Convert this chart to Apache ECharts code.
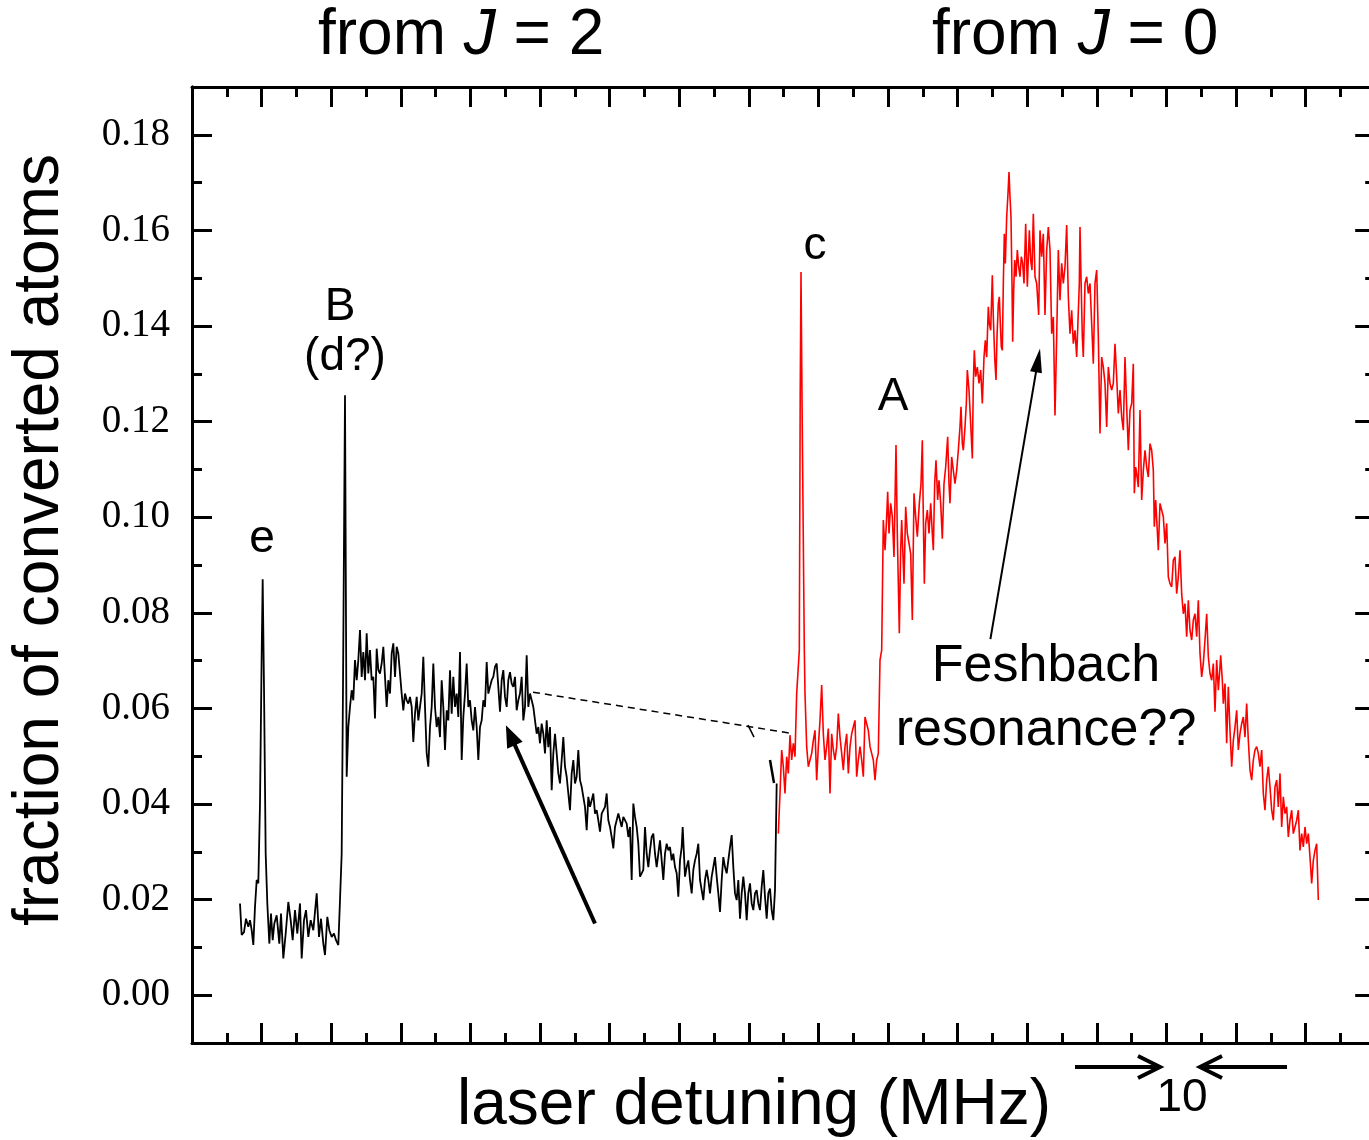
<!DOCTYPE html>
<html><head><meta charset="utf-8">
<script src="https://cdn.jsdelivr.net/npm/echarts@6/dist/echarts.min.js"></script>
<style>html,body{margin:0;padding:0;background:#fff}#c{width:1369px;height:1140px}</style>
</head><body><div id="c"></div>
<script>
// ---------- data (x: laser detuning in MHz, arbitrary origin; y: fraction of converted atoms) ----------
const yTickLabels = ['0.00','0.02','0.04','0.06','0.08','0.10','0.12','0.14','0.16','0.18'];
const yMinorTicks = [0.01, 0.03, 0.05, 0.07, 0.09, 0.11, 0.13, 0.15, 0.17];
const xRange = [0, 295.8];
const xMajorStep = 17.4;
const yRange = [-0.01, 0.19];
const scaleBarMHz = [242, 252];
const scaleBarLabel = '10';

// from J = 2 (black)
const blackData = [
[12,.0192],[12.42,.0126],[13,.0132],[13.5,.016],[14.08,.0143],[14.5,.0157],[14.92,.0136],[15.33,.0105],[15.75,.0185],[16.17,.0241],[16.58,.0234],[17,.0401],[17.42,.0715],[17.67,.087],[18,.0645],[18.42,.0296],[18.83,.0192],[19.33,.0108],[19.75,.0171],[20.17,.0115],[20.58,.015],[21.17,.0167],[21.83,.0108],[22.25,.0171],[22.83,.0077],[23.42,.0129],[24.08,.0195],[24.67,.0157],[25.17,.0115],[25.75,.0178],[26.33,.0129],[27,.0192],[27.42,.0077],[28,.0157],[28.5,.0178],[29.08,.0122],[29.67,.0157],[30.33,.0136],[31.17,.0213],[31.75,.0122],[32.25,.016],[32.83,.0108],[33.25,.0084],[33.83,.0164],[34.33,.0136],[34.92,.0122],[35.5,.0129],[36,.0115],[36.58,.0105],[37,.0199],[37.42,.0296],[37.75,.0645],[38.25,.1255],[38.5,.0785],[38.67,.0457],[39.08,.0561],[39.5,.0603],[39.92,.0638],[40.33,.0617],[40.75,.0701],[41.17,.0659],[41.58,.0701],[42,.0764],[42.42,.0666],[42.83,.0718],[43.25,.0659],[43.67,.0757],[44.08,.0673],[44.5,.0722],[44.92,.0659],[45.33,.0666],[45.75,.0579],[46.17,.0725],[46.58,.068],[47,.0673],[47.42,.0694],[47.83,.0729],[48.25,.0666],[48.67,.0603],[49.08,.0659],[49.5,.0631],[49.92,.0715],[50.33,.0736],[50.75,.0666],[51.17,.0729],[51.58,.0715],[52,.0673],[52.42,.0631],[52.83,.0596],[53.25,.0631],[53.67,.0617],[54.08,.061],[54.5,.0624],[54.92,.0603],[55.33,.053],[55.75,.0589],[56.17,.0624],[56.58,.0575],[57,.0603],[57.42,.0631],[57.83,.0708],[58.25,.0603],[58.67,.0506],[59.08,.0478],[59.5,.0561],[59.92,.0603],[60.33,.0694],[60.75,.0603],[61.17,.0561],[61.58,.0582],[62,.054],[62.42,.0659],[62.83,.0603],[63.25,.0513],[63.67,.0596],[64.08,.0575],[64.5,.068],[64.92,.0589],[65.33,.0666],[65.75,.0603],[66.17,.0631],[66.58,.0582],[67,.0718],[67.42,.0492],[67.83,.0582],[68.25,.0631],[68.67,.0694],[69.08,.0603],[69.5,.0617],[69.92,.0575],[70.33,.0554],[70.75,.0603],[71.17,.0561],[71.58,.0492],[72,.0561],[72.42,.0575],[72.83,.0617],[73.25,.0603],[73.67,.0697],[74.08,.0631],[74.5,.0645],[74.92,.0659],[75.33,.0666],[75.75,.0687],[76.17,.0694],[76.58,.0645],[77,.0593],[77.42,.0659],[77.83,.068],[78.25,.0624],[78.67,.0603],[79.08,.0659],[79.5,.0676],[79.92,.0652],[80.33,.0645],[80.75,.0666],[81.17,.0596],[81.58,.0617],[82,.0631],[82.42,.0666],[82.83,.0575],[83.25,.0603],[83.67,.0711],[84.08,.0603],[84.5,.0631],[84.92,.0617],[85.33,.0603],[85.75,.0575],[86.17,.0547],[86.58,.0561],[87,.0527],[87.42,.0568],[87.83,.0547],[88.25,.0506],[88.67,.0575],[89.08,.0519],[89.5,.0561],[89.92,.0429],[90.33,.0506],[90.75,.0547],[91.17,.0506],[91.58,.0464],[92,.0443],[92.42,.0492],[92.83,.054],[93.25,.0478],[93.67,.0457],[94.08,.0422],[94.5,.0387],[94.92,.0464],[95.33,.0492],[95.75,.0443],[96.17,.0457],[96.58,.0513],[97,.045],[97.42,.0436],[97.83,.0415],[98.25,.0394],[98.67,.0345],[99.08,.0415],[99.5,.0394],[99.92,.0408],[100.33,.0422],[100.75,.038],[101.17,.0387],[101.58,.0366],[102,.0342],[102.42,.038],[102.83,.038],[103.25,.0394],[103.67,.0422],[104.08,.0366],[104.5,.0352],[104.92,.0331],[105.33,.0307],[105.75,.0352],[106.17,.0366],[106.58,.038],
[107.42,.0352],[107.83,.0373],[108.67,.0359],[109.08,.0331],[109.5,.0352],[109.92,.0241],[110.33,.0401],[110.75,.0373],[111.17,.0352],[111.58,.0317],[112,.0248],[112.42,.0255],[112.83,.0262],[113.25,.0352],[113.67,.0296],[114.08,.0268],[114.5,.0303],[114.92,.0331],[115.33,.0338],[115.75,.0296],[116.17,.0268],[116.58,.0296],[117,.0324],[117.42,.0282],[117.83,.0241],[118.25,.0296],[118.67,.0317],[119.08,.0303],[119.5,.031],[119.92,.0282],[120.33,.0296],[120.75,.0268],[121.17,.0255],[121.58,.0206],[122,.0282],[122.42,.031],[122.67,.0352],[123.25,.0248],[123.67,.0268],[124.08,.0282],[124.5,.0241],[124.92,.0213],[125.33,.0262],[125.75,.0282],[126.17,.0296],[126.58,.0317],[127,.0241],[127.42,.022],[127.83,.0199],[128.25,.0241],[128.67,.0262],[129.08,.0241],[129.5,.0213],[129.92,.0248],[130.33,.0268],[130.75,.0289],[131.17,.0248],[131.58,.0213],[132,.0174],[132.42,.0241],[132.83,.0289],[133.25,.0268],[133.67,.0255],[134.08,.0282],[134.5,.031],[134.92,.0335],[135.33,.0268],[135.75,.0213],[136.17,.0199],[136.58,.0241],[137,.016],[137.42,.0213],[137.83,.0248],[138.25,.0213],[138.67,.0157],[139.08,.0213],[139.5,.0234],[139.92,.0192],[140.33,.0178],[140.75,.0213],[141.17,.022],[141.58,.0192],[142,.0178],[142.42,.0227],[142.83,.0262],[143.25,.0206],[143.67,.016],[144.08,.0213],[144.5,.0223],[144.92,.0178],[145.33,.0157],[145.75,.022],[146,.0352],[146.17,.0443]
];

// from J = 0 (red)
const redData = [
[146.58,.0338],[147,.0422],[147.42,.0513],[147.83,.0478],[148.25,.0422],[148.67,.0499],[149.08,.0464],[149.5,.0544],[149.92,.0492],[150.33,.0527],[150.75,.0499],[151.17,.0631],[151.83,.0722],[152.05,.125],[152.25,.1513],[152.5,.125],[153.08,.0722],[153.25,.0631],[153.67,.052],[154.08,.0478],[154.5,.0492],[154.92,.0506],[155.33,.0533],[155.75,.0554],[156.17,.045],[156.58,.052],[157,.0575],[157.42,.0649],[157.83,.0547],[158.25,.0492],[158.67,.052],[159.08,.0558],[159.5,.0422],[159.92,.0547],[160.33,.0513],[160.75,.0492],[161.17,.052],[161.58,.0589],[162,.054],[162.42,.0506],[162.83,.0471],[163.25,.052],[163.67,.0547],[164.08,.0464],[164.5,.052],[164.92,.0547],[165.33,.0561],[165.75,.0575],[166.17,.0457],[166.58,.0492],[167,.052],[167.42,.0492],[167.83,.0457],[168.25,.0582],[168.67,.0568],[169.08,.0554],[169.5,.052],[169.92,.0506],[170.33,.0492],[170.75,.045],[171.17,.0492],[171.58,.0506],[172,.0701],
[172.42,.0722],[172.83,.0994],[173.25,.0931],[173.67,.1001],[173.92,.1053],[174.25,.0966],[174.67,.1029],[175.08,.1001],[175.5,.0917],[176,.1151],[176.33,.0966],[176.83,.0757],[177.17,.0931],[177.42,.0994],[178,.0861],[178.42,.1022],[178.83,.0966],[179.25,.0945],[179.67,.0924],[180.08,.0785],[180.5,.105],[180.92,.1001],[181.33,.0959],[181.83,.1029],[182.25,.107],[182.58,.1161],[182.83,.1001],[183.08,.0861],[183.42,.0987],[183.83,.1015],[184.25,.0966],[184.67,.1029],[185.08,.0966],[185.33,.0931],[185.67,.107],[186,.1119],[186.42,.1036],[186.75,.1077],[187.17,.1029],[187.58,.0955],[188,.107],[188.42,.1105],[188.92,.1168],[189.25,.107],[189.5,.1029],[189.92,.1126],[190.33,.1098],[190.75,.107],[191.17,.1098],[191.58,.114],[192,.1189],[192.25,.1231],[192.58,.1154],[192.83,.114],[193.25,.1189],[193.58,.1238],[193.83,.1308],[194.25,.1266],[194.5,.1224],[194.83,.1168],[195.08,.1123],[195.33,.128],[195.58,.1349],[195.92,.1294],[196.33,.1314],[196.75,.128],[197.17,.1308],[197.58,.1238],[198,.1335],[198.33,.137],[198.67,.1335],[199.08,.144],[199.33,.1405],[199.67,.1391],[200.08,.1506],[200.33,.1419],[200.67,.1335],[201,.1287],[201.25,.1377],[201.58,.1447],[201.83,.1461],[202.08,.1405],[202.33,.1356],[202.58,.1349],[202.83,.1489],[203.08,.1593],[203.33,.1531],[203.67,.1628],[204,.1677],[204.25,.1722],[204.5,.167],[204.75,.1628],[205,.1489],[205.17,.1367],[205.42,.1475],[205.67,.1538],[206,.1503],[206.33,.1559],[206.67,.1524],[207,.1503],[207.33,.1545],[207.67,.1531],[208,.1489],[208.42,.1614],[208.83,.1482],[209.33,.16],[209.67,.1538],[210,.1517],[210.33,.1635],[210.75,.1503],[211.17,.1489],[211.67,.1423],[212,.16],[212.42,.1545],[212.83,.1593],[213.25,.1423],[213.67,.1559],[214.08,.1607],[214.5,.1559],[214.92,.1384],[215.33,.1419],[215.75,.1213],[216.17,.1377],[216.58,.1559],
[217,.1454],[217.42,.1531],[217.83,.1489],[218.25,.1524],[218.67,.1611],[219.08,.1461],[219.5,.1384],[219.92,.1433],[220.33,.1363],[220.75,.1391],[221.17,.1335],[221.58,.1332],[221.83,.1489],[222,.1607],[222.25,.1503],[222.58,.1377],[222.83,.1335],[223.25,.1489],[223.67,.1503],[224.08,.1468],[224.5,.1489],[224.92,.1405],[225.33,.1321],[225.75,.1489],[226.17,.1517],[226.58,.1377],[227,.1175],[227.42,.1335],[227.83,.1314],[228.25,.128],[228.67,.1189],[229.08,.1314],[229.5,.128],[229.92,.1266],[230.33,.128],[230.75,.1363],[231.17,.1294],[231.58,.1217],[232,.1266],[232.42,.121],[232.83,.1182],[233.25,.1335],[233.67,.1231],[234.08,.114],[234.5,.1224],[234.92,.1238],[235.33,.1321],[235.58,.105],[235.92,.1105],[236.17,.1091],[236.58,.1063],[237,.1224],[237.42,.1036],[237.83,.1098],[238.25,.114],[238.67,.1105],[239.08,.1084],[239.5,.1154],[239.92,.114],[240.33,.1098],[240.58,.098],[240.92,.1036],[241.17,.1036],[241.58,.0931],[242,.1029],[242.42,.1029],[242.83,.1001],[243.25,.0945],[243.67,.0987],[244.08,.0875],[244.5,.0861],[244.92,.0854],[245.33,.091],[245.75,.0917],[246.17,.084],[246.58,.0875],[247,.0931],[247.42,.084],
[247.83,.0798],[248.25,.0819],[248.67,.075],[249.08,.0826],[249.5,.0764],[249.92,.0743],[250.33,.0785],[250.75,.0798],[251.17,.075],[251.58,.0826],[252,.0715],[252.42,.0666],[252.83,.0694],[253.25,.0743],[253.67,.0798],[254.08,.0708],[254.5,.0673],[254.92,.0659],[255.33,.0694],[255.75,.0593],[256.17,.0701],[256.58,.0638],[257,.0687],[257.17,.0711],[257.58,.0659],[257.83,.061],[258.25,.0652],[258.67,.0527],[259.08,.0645],[259.5,.0554],[259.92,.0478],[260.33,.0533],[260.75,.0561],[261.17,.0596],[261.58,.0513],[262,.0547],[262.42,.0568],[262.83,.0582],[263.25,.054],[263.67,.061],[264.08,.0533],[264.5,.0471],[264.92,.045],[265.33,.0492],[265.75,.0513],[266.17,.052],[266.58,.0506],[267,.0478],[267.42,.0513],[267.83,.0422],[268.25,.0387],[268.67,.045],[269.08,.0478],[269.5,.0436],[269.92,.0387],[270.33,.0366],[270.75,.0436],[271.17,.045],[271.58,.0394],[272,.0464],[272.42,.0352],[272.83,.0415],[273.25,.038],[273.67,.0394],[274.08,.0331],[274.5,.0366],[274.92,.0387],[275.33,.0338],[275.75,.0352],[276.17,.0366],[276.58,.0387],[277,.0303],[277.42,.0338],[277.83,.031],[278.25,.0352],[278.67,.0317],[279.08,.0338],[279.5,.0289],[279.92,.0234],[280.33,.0282],[280.75,.0303],[281.17,.0317],[281.58,.0199]
];

// ---------- chart ----------
const SANS = '"Liberation Sans", Arial, sans-serif';
const SERIF = '"Liberation Serif", "Times New Roman", serif';
const chart = echarts.init(document.getElementById('c'), null, {renderer: 'canvas'});

const lineBlack = {color: '#000', width: 3};
const yMajorValues = yTickLabels.map(Number);

function xAxisCfg(pos) {
  return {
    type: 'value', position: pos, min: xRange[0], max: xRange[1], interval: xMajorStep,
    axisLine: {show: true, onZero: false, lineStyle: lineBlack},
    axisTick: {show: true, inside: true, length: 20, lineStyle: lineBlack},
    minorTick: {show: true, splitNumber: 2, length: 10, lineStyle: lineBlack},
    axisLabel: {show: false}, splitLine: {show: false}, minorSplitLine: {show: false}
  };
}
function yAxisCfg(pos, values, len, labels) {
  return {
    type: 'value', position: pos, min: yRange[0], max: yRange[1], interval: 0.01,
    axisLine: {show: true, onZero: false, lineStyle: lineBlack},
    axisTick: {show: true, inside: true, length: len, lineStyle: lineBlack, customValues: values},
    minorTick: {show: false}, splitLine: {show: false},
    axisLabel: labels ? {
      show: true, inside: false, margin: 22, color: '#000', fontFamily: SERIF, fontSize: 39,
      customValues: values,
      formatter: v => Number(v).toFixed(2)
    } : {show: false}
  };
}

const arrowStyleThick = {color: '#000', width: 4, type: 'solid'};
const arrowStyleThin = {color: '#000', width: 2, type: 'solid'};

const option = {
  animation: false,
  backgroundColor: '#fff',
  textStyle: {fontFamily: SANS},
  grid: {left: 192, top: 87, width: 1183.2, height: 956, containLabel: false, outerBoundsMode: 'none'},
  xAxis: [xAxisCfg('bottom'), xAxisCfg('top')],
  yAxis: [
    yAxisCfg('left', yMajorValues, 20, true),
    yAxisCfg('left', yMinorTicks, 10, false),
    yAxisCfg('right', yMajorValues, 20, false),
    yAxisCfg('right', yMinorTicks, 10, false)
  ],
  series: [
    {
      name: 'from J = 2', type: 'line', xAxisIndex: 0, yAxisIndex: 0, data: blackData,
      symbol: 'none', smooth: false, sampling: null,
      lineStyle: {color: '#000', width: 1.8}, itemStyle: {color: '#000'},
      z: 3,
      markLine: {
        silent: true, animation: false, label: {show: false}, symbol: ['none', 'none'],
        emphasis: {disabled: true},
        data: [
          [{coord: [100.75, 0.0150], symbol: 'none', lineStyle: arrowStyleThick},
           {coord: [79.6, 0.0544], symbol: 'triangle', symbolSize: [17, 22], lineStyle: arrowStyleThick}],
          [{coord: [199.6, 0.0745], symbol: 'none', lineStyle: arrowStyleThin},
           {coord: [211.5, 0.1328], symbol: 'triangle', symbolSize: [12, 24], lineStyle: arrowStyleThin}],
          [{coord: [85.25, 0.0634], symbol: 'none', lineStyle: {color: '#000', width: 1.5, type: [7, 5]}},
           {coord: [149.75, 0.0548], symbol: 'none', lineStyle: {color: '#000', width: 1.5, type: [7, 5]}}],
          [{coord: [139, 0.0565], symbol: 'none', lineStyle: {color: '#000', width: 1.5, type: 'solid'}},
           {coord: [140.5, 0.054], symbol: 'none', lineStyle: {color: '#000', width: 1.5, type: 'solid'}}],
          [{coord: [144.5, 0.0492], symbol: 'none', lineStyle: {color: '#000', width: 2.5, type: 'solid'}},
           {coord: [145.5, 0.0444], symbol: 'none', lineStyle: {color: '#000', width: 2.5, type: 'solid'}}]
        ]
      }
    },
    {
      name: 'from J = 0', type: 'line', xAxisIndex: 0, yAxisIndex: 0, data: redData,
      symbol: 'none', smooth: false, sampling: null,
      lineStyle: {color: '#ff0000', width: 1.6}, itemStyle: {color: '#ff0000'}, z: 2
    }
  ]
};
chart.setOption(option);

// annotation graphics
const p1 = chart.convertToPixel({xAxisIndex: 0}, scaleBarMHz[0]);
const p2 = chart.convertToPixel({xAxisIndex: 0}, scaleBarMHz[1]);
const barY = 1067;
function txt(t, x, y, size, extra) {
  return Object.assign({type: 'text', x: x, y: y, silent: true, z: 100,
    style: {text: t, fill: '#000', fontFamily: SANS, fontSize: size, align: 'center', verticalAlign: 'middle'}}, extra || {});
}
const richJ = {
  n: {fontFamily: SANS, fontSize: 64, color: '#000'},
  i: {fontFamily: SANS, fontSize: 64, fontStyle: 'italic', color: '#000'}
};
const graphics = [
  {type: 'text', x: 318, y: 36, silent: true, style: {text: '{n|from }{i|J}{n| = 2}', rich: richJ, align: 'left', verticalAlign: 'middle', fill: '#000', fontSize: 64, fontFamily: SANS}},
  {type: 'text', x: 932, y: 36, silent: true, style: {text: '{n|from }{i|J}{n| = 0}', rich: richJ, align: 'left', verticalAlign: 'middle', fill: '#000', fontSize: 64, fontFamily: SANS}},
  txt('fraction of converted atoms', 40, 540, 64, {rotation: Math.PI / 2}),
  txt('laser detuning (MHz)', 754, 1106, 64),
  txt('e', 262, 539, 46),
  txt('B', 340, 307, 46),
  txt('(d?)', 345, 357, 46),
  txt('c', 815, 246, 46),
  txt('A', 893, 397, 46),
  txt('Feshbach', 1046, 667, 52),
  txt('resonance??', 1046, 731, 52),
  txt(scaleBarLabel, (p1 + p2) / 2 + 2, 1098, 46),
  {type: 'line', silent: true, shape: {x1: p1 - 85, y1: barY, x2: p1 - 2, y2: barY}, style: {stroke: '#000', lineWidth: 4}},
  {type: 'polyline', silent: true, shape: {points: [[p1 - 22, barY - 11], [p1, barY], [p1 - 22, barY + 11]]}, style: {stroke: '#000', lineWidth: 4, fill: null, lineJoin: 'miter'}},
  {type: 'line', silent: true, shape: {x1: p2 + 2, y1: barY, x2: p2 + 87, y2: barY}, style: {stroke: '#000', lineWidth: 4}},
  {type: 'polyline', silent: true, shape: {points: [[p2 + 22, barY - 11], [p2, barY], [p2 + 22, barY + 11]]}, style: {stroke: '#000', lineWidth: 4, fill: null, lineJoin: 'miter'}}
];
chart.setOption({graphic: graphics});
</script>
</body></html>
